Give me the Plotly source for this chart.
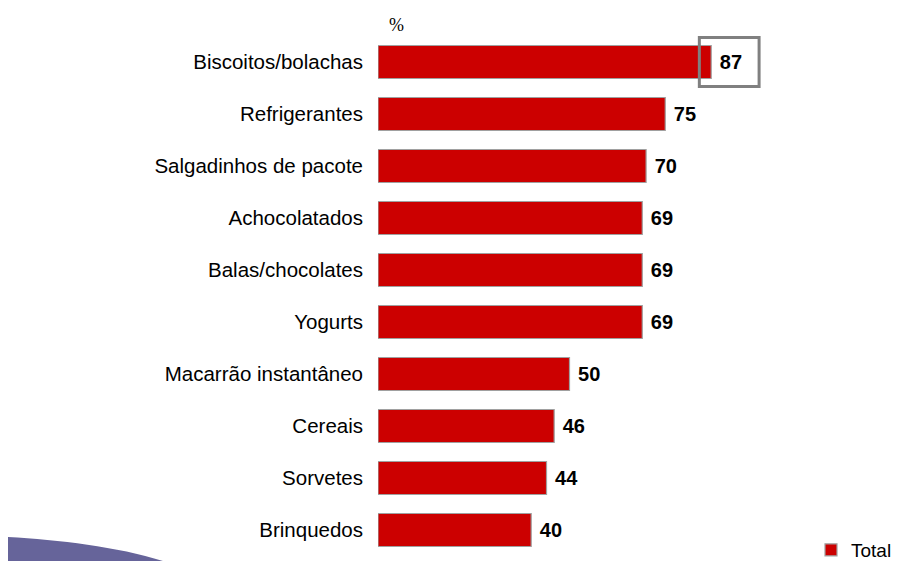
import plotly.graph_objects as go

categories = ["Biscoitos/bolachas", "Refrigerantes", "Salgadinhos de pacote",
              "Achocolatados", "Balas/chocolates", "Yogurts",
              "Macarrão instantâneo", "Cereais", "Sorvetes", "Brinquedos"]
values = [87, 75, 70, 69, 69, 69, 50, 46, 44, 40]
series_name = "Total"
highlight_index = 0

fig = go.Figure()
fig.add_trace(go.Bar(
    y=categories, x=values, orientation="h", name=series_name,
    marker=dict(color="#CC0000", line=dict(color="#A0A0A0", width=1.2)),
    text=[str(v) for v in values], textposition="outside",
    constraintext="none",
    textfont=dict(family="Liberation Sans, Arial", size=20, color="#000000"),
    texttemplate="\u00a0<b>%{text}</b>", cliponaxis=False, showlegend=True,
))

hv = values[highlight_index]
fig.add_shape(type="rect", xref="x", yref="y",
              x0=hv - 3.1, x1=hv + 12.5, y0=highlight_index - 0.47, y1=highlight_index + 0.47,
              line=dict(color="#808080", width=3), fillcolor="rgba(0,0,0,0)")

# decorative swoosh bottom-left (paper coords: plot spans x 378..897, y 36..561)
W, H, L, T = 519.0, 525.0, 378.0, 36.0
def px(x):
    return (x - L) / W
def py(y):
    return (T + H - y) / H
swoosh = (f"M {px(8):.4f} {py(562):.4f} L {px(8):.4f} {py(537):.4f} "
          f"C {px(60):.4f} {py(540):.4f} {px(120):.4f} {py(547):.4f} {px(166):.4f} {py(562):.4f} Z")
fig.add_shape(type="path", xref="paper", yref="paper", layer="below",
              path=swoosh, line=dict(width=0), fillcolor="#66649A")

fig.add_annotation(text="%", xref="paper", yref="paper", x=px(387), y=py(25),
                   xanchor="left", yanchor="middle", showarrow=False,
                   font=dict(family="Liberation Serif, Times New Roman", size=18, color="#000000"))

fig.update_layout(
    width=897, height=561,
    margin=dict(l=378, r=0, t=36, b=0, autoexpand=False),
    paper_bgcolor="white", plot_bgcolor="rgba(0,0,0,0)",
    bargap=0.365,
    font=dict(family="Liberation Sans, Arial", color="#000000"),
    xaxis=dict(range=[0, W / 3.83], visible=False, showgrid=False, zeroline=False),
    yaxis=dict(range=[9.5 + (H / 52.0 - 10), -0.5], showgrid=False, zeroline=False,
               showline=False, ticks="", ticklabelstandoff=14,
               tickfont=dict(family="Liberation Sans, Arial", size=20.5, color="#000000")),
    legend=dict(x=px(811), y=py(550), xanchor="left", yanchor="middle",
                font=dict(family="Liberation Sans, Arial", size=19, color="#000000"),
                bgcolor="rgba(0,0,0,0)", itemwidth=30),
    showlegend=True,
)

fig.write_html("out.html")
